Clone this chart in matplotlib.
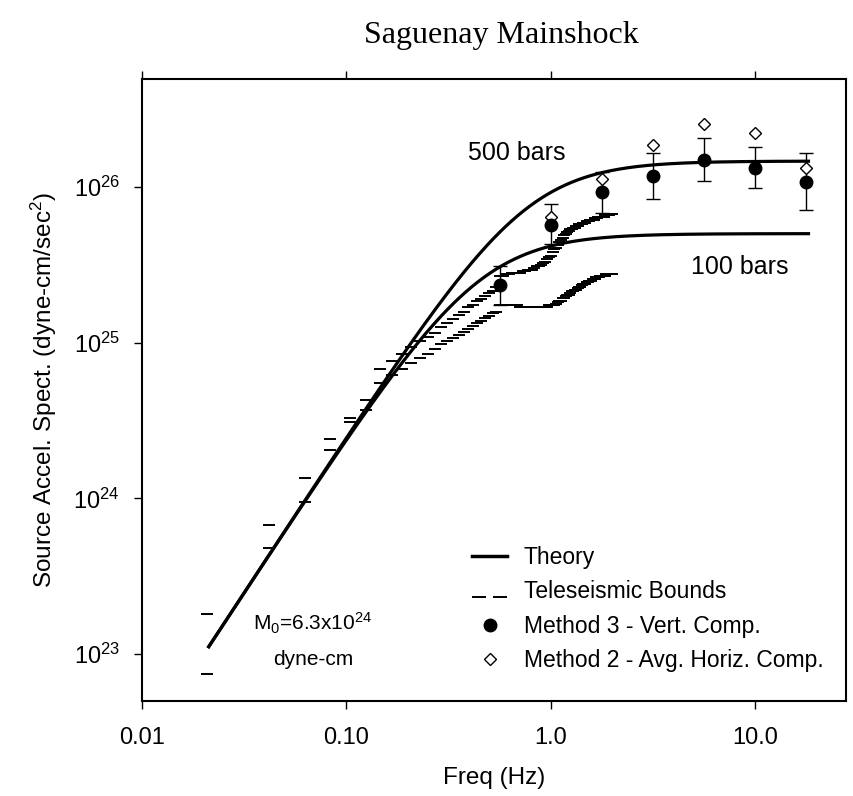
import numpy as np
import matplotlib
matplotlib.use("Agg")
import matplotlib.pyplot as plt
from matplotlib.lines import Line2D
from matplotlib.path import Path
from matplotlib.legend_handler import HandlerLine2D
from matplotlib.ticker import FixedLocator, NullLocator, LogFormatterMathtext, FixedFormatter

plt.rcParams['font.family'] = ['Liberation Sans', 'DejaVu Sans']
plt.rcParams['mathtext.fontset'] = 'custom'
plt.rcParams['mathtext.rm'] = 'Liberation Sans'
plt.rcParams['mathtext.it'] = 'Liberation Sans:italic'
plt.rcParams['mathtext.bf'] = 'Liberation Sans:bold'

# Brune source model parameters
M0 = 6.3e24               # seismic moment, dyne-cm
beta = 3.65               # shear wave velocity, km/s
stress_drops = [500, 100] # bars
theory_fmin, theory_fmax = 0.021, 18.6

# teleseismic bounds, one pair every 1/48 Hz (log10 of the upper / lower limit)
tele_df = 1.0 / 48
tele_upper_log = [23.26, 23.83, 24.13, 24.38, 24.52, 24.63, 24.83, 24.88, 24.93, 24.97,
                  25.01, 25.04, 25.06, 25.10, 25.13, 25.15, 25.18, 25.20, 25.23, 25.24,
                  25.27, 25.28, 25.30, 25.32, 25.33, 25.36, 25.43, 25.43, 25.44, 25.44,
                  25.45, 25.45, 25.45, 25.45, 25.46, 25.46, 25.47, 25.47, 25.47, 25.48,
                  25.49, 25.49, 25.50, 25.51, 25.52, 25.54, 25.55, 25.56, 25.58, 25.60,
                  25.61, 25.63, 25.65, 25.66, 25.67, 25.69, 25.70, 25.71, 25.72, 25.73,
                  25.73, 25.74, 25.74, 25.75, 25.75, 25.76, 25.76, 25.76, 25.77, 25.77,
                  25.77, 25.78, 25.78, 25.78, 25.79, 25.79, 25.79, 25.79, 25.80, 25.80,
                  25.80, 25.81, 25.81, 25.81, 25.81, 25.81, 25.81, 25.81, 25.82, 25.82,
                  25.82, 25.82, 25.82, 25.83, 25.83, 25.83]
tele_lower_log = [22.87, 23.68, 23.98, 24.31, 24.49, 24.57, 24.74, 24.79, 24.83, 24.87,
                  24.90, 24.93, 24.96, 24.99, 25.01, 25.03, 25.05, 25.07, 25.09, 25.11,
                  25.13, 25.14, 25.16, 25.17, 25.19, 25.20, 25.24, 25.24, 25.24, 25.24,
                  25.24, 25.24, 25.24, 25.23, 25.23, 25.23, 25.23, 25.23, 25.23, 25.23,
                  25.23, 25.23, 25.23, 25.23, 25.23, 25.23, 25.24, 25.24, 25.24, 25.24,
                  25.25, 25.26, 25.27, 25.27, 25.29, 25.29, 25.30, 25.31, 25.31, 25.32,
                  25.33, 25.33, 25.34, 25.34, 25.35, 25.36, 25.36, 25.37, 25.38, 25.38,
                  25.38, 25.39, 25.39, 25.40, 25.40, 25.40, 25.41, 25.41, 25.41, 25.42,
                  25.42, 25.42, 25.42, 25.43, 25.43, 25.43, 25.43, 25.43, 25.43, 25.44,
                  25.44, 25.44, 25.44, 25.44, 25.44, 25.44]

# method 3 (vertical component) with error limits
m3_freq = [0.5623, 1.0, 1.778, 3.162, 5.623, 10.0, 17.78]
m3_value = [2.35e25, 5.7e25, 9.3e25, 1.18e26, 1.49e26, 1.32e26, 1.08e26]
m3_high = [3.1e25, 7.8e25, 1.25e26, 1.65e26, 2.07e26, 1.81e26, 1.65e26]
m3_low = [1.74e25, 4.3e25, 6.8e25, 8.4e25, 1.09e26, 9.9e25, 7.1e25]

# method 2 (average horizontal component)
m2_freq = [1.0, 1.778, 3.162, 5.623, 10.0, 17.78]
m2_value = [6.4e25, 1.13e26, 1.86e26, 2.54e26, 2.22e26, 1.32e26]

x_ticks = [0.01, 0.1, 1.0, 10.0]
x_ticklabels = ['0.01', '0.10', '1.0', '10.0']
y_ticks = [1e23, 1e24, 1e25, 1e26]


def brune_accel(f, stress):
    fc = 4.9e6 * beta * (stress / M0) ** (1.0 / 3.0)
    return M0 * (2 * np.pi * f) ** 2 / (1 + (f / fc) ** 2)


fig = plt.figure(figsize=(8.54, 7.96), dpi=100)
ax = fig.add_axes([0.1663, 0.1193, 0.8244, 0.7814])
ax.set_xscale('log')
ax.set_yscale('log')

f = np.logspace(np.log10(theory_fmin), np.log10(theory_fmax), 400)
for s in stress_drops:
    ax.plot(f, brune_accel(f, s), color='k', lw=2.3, solid_capstyle='butt')

tele_freq = np.arange(1, len(tele_upper_log) + 1) * tele_df
ax.plot(tele_freq, 10 ** np.array(tele_upper_log), ls='none', marker='_',
        ms=8.5, mew=1.4, color='k')
ax.plot(tele_freq, 10 ** np.array(tele_lower_log), ls='none', marker='_',
        ms=8.5, mew=1.4, color='k')

m3_value = np.array(m3_value)
yerr = [m3_value - np.array(m3_low), np.array(m3_high) - m3_value]
ax.errorbar(m3_freq, m3_value, yerr=yerr, fmt='o', color='k', ms=9,
            capsize=5, elinewidth=1, capthick=1)
ax.plot(m2_freq, m2_value, ls='none', marker='D', ms=6, mfc='white',
        mec='k', mew=1)

ax.text(0.68, 1.66e26, '500 bars', fontsize=18, ha='center', va='center')
ax.text(8.45, 3.06e25, '100 bars', fontsize=18, ha='center', va='center')
ax.text(0.0687, 1.57e23, r'M$_0$=6.3x10$^{24}$', fontsize=15, ha='center', va='center')
ax.text(0.0687, 9.3e22, 'dyne-cm', fontsize=15, ha='center', va='center')

ax.set_xlim(0.01, 27.9)
ax.set_ylim(10 ** 22.699, 10 ** 26.694)
ax.xaxis.set_major_locator(FixedLocator(x_ticks))
ax.xaxis.set_major_formatter(FixedFormatter(x_ticklabels))
ax.xaxis.set_minor_locator(NullLocator())
ax.yaxis.set_major_locator(FixedLocator(y_ticks))
ax.yaxis.set_major_formatter(LogFormatterMathtext())
ax.yaxis.set_minor_locator(NullLocator())
ax.tick_params(axis='both', which='major', direction='out', length=6, width=1,
               labelsize=17, top=True, pad=10)
ax.tick_params(axis='x', pad=13)
for sp in ax.spines.values():
    sp.set_linewidth(1.5)

ax.set_xlabel('Freq (Hz)', fontsize=17.5, labelpad=13)
ax.set_ylabel(r'Source Accel. Spect. (dyne-cm/sec$^2$)', fontsize=17.5, labelpad=10)
fig.text(0.587, 0.956, 'Saguenay Mainshock', fontsize=23, ha='center', va='center',
         family=['Liberation Serif', 'DejaVu Serif'])

bounds_marker = Path([(-1, -1), (1, -1)])
h_theory = Line2D([], [], color='k', lw=2.5)
h_tele = Line2D([], [], ls='none', marker=bounds_marker, ms=10, mew=1.4, color='k')
h_m3 = Line2D([], [], ls='none', marker='o', ms=9, color='k')
h_m2 = Line2D([], [], ls='none', marker='D', ms=6, mfc='white', mec='k', mew=1)
ax.legend([h_theory, h_tele, h_m3, h_m2],
          ['Theory', 'Teleseismic Bounds', 'Method 3 - Vert. Comp.',
           'Method 2 - Avg. Horiz. Comp.'],
          handler_map={h_tele: HandlerLine2D(numpoints=2)},
          loc='lower left', bbox_to_anchor=(0.44, 0.013), frameon=False,
          fontsize=16.5, handlelength=1.5, handletextpad=0.75, labelspacing=0.5,
          numpoints=1)

fig.savefig('out.png', dpi=100)
